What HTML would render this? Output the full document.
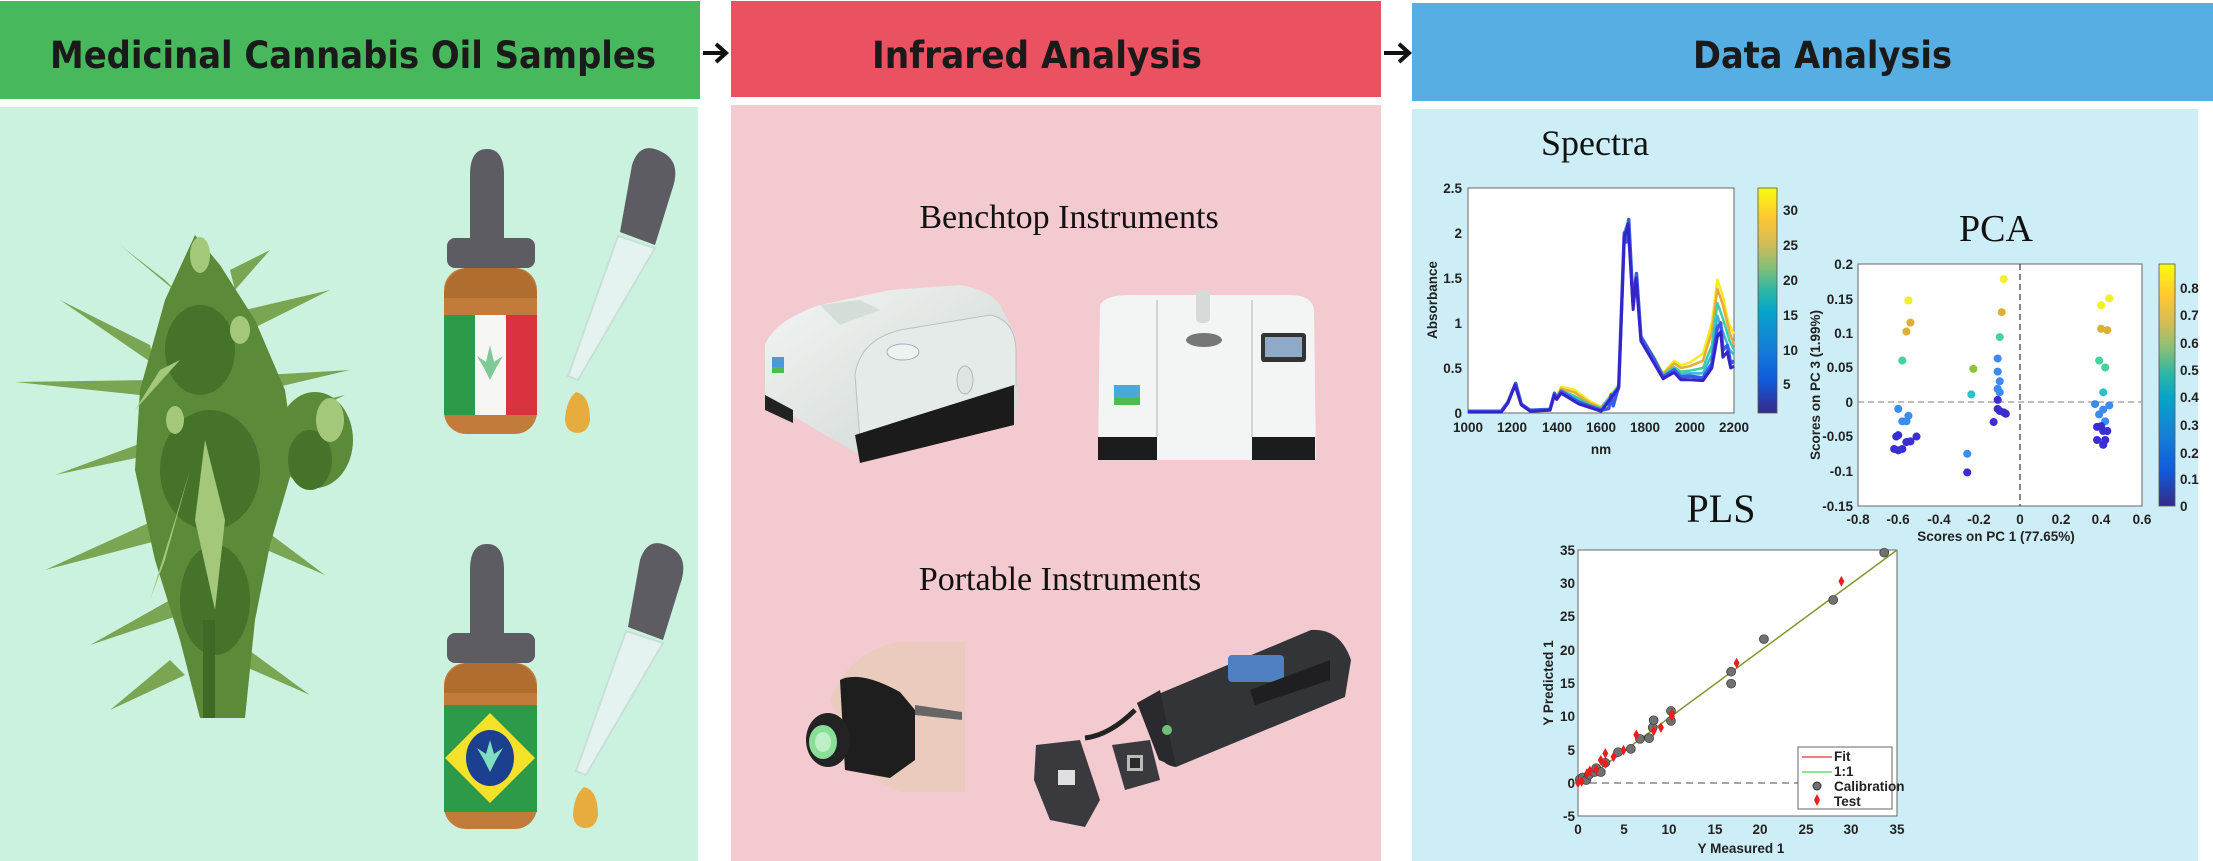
<!DOCTYPE html>
<html><head><meta charset="utf-8"><style>
html,body{margin:0;padding:0;background:#fff;}
svg{display:block;}
.tk{font-family:"Liberation Sans",sans-serif;font-weight:bold;font-size:13.5px;fill:#222;}
.ser{font-family:"Liberation Serif",serif;fill:#111;}
.hd{font-family:"DejaVu Sans","Liberation Sans",sans-serif;font-weight:bold;font-size:37px;fill:#1a1a1a;font-stretch:condensed;}
</style></head><body>
<svg width="2213" height="861" viewBox="0 0 2213 861" xmlns="http://www.w3.org/2000/svg">
<defs>
<linearGradient id="par" x1="0" y1="1" x2="0" y2="0">
<stop offset="0" stop-color="#352a87"/><stop offset="0.15" stop-color="#0f5cdd"/><stop offset="0.3" stop-color="#1481d6"/>
<stop offset="0.45" stop-color="#06a4ca"/><stop offset="0.55" stop-color="#2eb7a4"/><stop offset="0.65" stop-color="#87bf77"/>
<stop offset="0.75" stop-color="#d1bb59"/><stop offset="0.87" stop-color="#fec832"/><stop offset="1" stop-color="#f9fb0e"/>
</linearGradient>
<linearGradient id="gw" x1="0" y1="0" x2="1" y2="1"><stop offset="0" stop-color="#f2f5f3"/><stop offset="1" stop-color="#cdd5d2"/></linearGradient>
</defs>
<rect width="2213" height="861" fill="#fff"/>
<!-- headers -->
<rect x="0" y="1" width="700" height="98" fill="#47b95c"/>
<rect x="731" y="1" width="650" height="96" fill="#ea5262"/>
<rect x="1412" y="3" width="801" height="98" fill="#56aee2"/>
<text class="hd" x="50" y="68" textLength="606" lengthAdjust="spacingAndGlyphs">Medicinal Cannabis Oil Samples</text>
<text class="hd" x="872" y="68" textLength="330" lengthAdjust="spacingAndGlyphs">Infrared Analysis</text>
<text class="hd" x="1693" y="68" textLength="259" lengthAdjust="spacingAndGlyphs">Data Analysis</text>
<!-- arrows -->
<g stroke="#111" stroke-width="4" fill="none"><path d="M703 53 H725 M716 44 L726 53 L716 62"/><path d="M1384 53 H1408 M1399 44 L1409 53 L1399 62"/></g>
<!-- bodies -->
<rect x="0" y="107" width="698" height="754" fill="#cbf2df"/>
<rect x="731" y="105" width="650" height="756" fill="#f2cad0"/>
<rect x="1412" y="109" width="786" height="752" fill="#cdeef6"/>

<!-- plant -->
<g>
<g fill="#7aa653">
<path d="M150 380 L15 382 L140 395 Z"/><path d="M150 345 L60 300 L155 365 Z"/><path d="M150 440 L55 475 L150 455 Z"/>
<path d="M155 520 L45 570 L160 540 Z"/><path d="M170 600 L90 645 L180 615 Z"/><path d="M170 660 L110 710 L185 675 Z"/>
<path d="M245 310 L330 290 L250 330 Z"/><path d="M265 375 L350 370 L265 390 Z"/><path d="M280 410 L345 395 L285 425 Z"/>
<path d="M265 530 L325 575 L255 545 Z"/><path d="M235 640 L310 695 L230 660 Z"/><path d="M165 280 L120 245 L180 295 Z"/><path d="M230 270 L270 250 L235 290 Z"/>
</g>
<g fill="#5b8a39">
<path d="M195 235 L220 265 L255 320 L285 390 L295 460 L270 545 L255 620 L245 718 L200 718 L180 640 L155 560 L135 470 L140 390 L165 300 Z"/>
<ellipse cx="315" cy="440" rx="38" ry="48"/>
</g>
<g fill="#46732a">
<ellipse cx="200" cy="350" rx="35" ry="45"/><ellipse cx="210" cy="470" rx="50" ry="60"/><ellipse cx="215" cy="600" rx="35" ry="55"/><ellipse cx="310" cy="460" rx="22" ry="30"/>
<rect x="203" y="620" width="12" height="98" fill="#3f6a25"/>
</g>
<g fill="#a3c87a">
<path d="M205 440 L225 520 L215 610 L195 520 Z"/><path d="M190 470 L165 560 L150 600 L175 520 Z"/><path d="M180 360 L135 410 L160 370 Z"/>
<ellipse cx="200" cy="255" rx="10" ry="18"/><ellipse cx="330" cy="420" rx="14" ry="22"/><ellipse cx="240" cy="330" rx="10" ry="14"/><ellipse cx="175" cy="420" rx="9" ry="14"/>
</g>
</g>

<!-- bottles -->
<g id="b1">
<path d="M470 175 Q470 149 487 149 Q504 149 504 175 L504 241 L470 241 Z" fill="#5d5c62"/>
<rect x="447" y="238" width="88" height="30" rx="8" fill="#5d5c62"/>
<rect x="444" y="268" width="93" height="166" rx="22" fill="#c27b3a"/>
<path d="M465 268 Q444 274 444 298 L537 298 Q537 274 516 268 Z" fill="#b06d30"/>
</g>
<rect x="444" y="315" width="31" height="100" fill="#2c9a48"/>
<rect x="475" y="315" width="31" height="100" fill="#f6f6f4"/>
<rect x="506" y="315" width="31" height="100" fill="#d9333f"/>
<path d="M490 345 L494 362 L503 356 L496 368 L490 380 L484 368 L477 356 L486 362 Z" fill="#7fc996"/>
<g id="d1">
<path d="M632 165 Q640 140 662 152 Q682 162 672 190 L655 245 L620 232 Z" fill="#5d5c62"/>
<path d="M618 236 L655 248 L578 380 L568 376 Z" fill="#e4f3f0" stroke="#c8dfda" stroke-width="2"/>
<path d="M576 392 Q590 395 590 420 Q588 433 577 433 Q566 432 565 420 Q566 400 576 392 Z" fill="#e6ad3e"/>
</g>
<use href="#b1" y="395"/>
<rect x="444" y="705" width="93" height="107" fill="#2c9a48"/>
<path d="M490 713 L535 758 L490 803 L445 758 Z" fill="#f4e12a"/>
<ellipse cx="490" cy="758" rx="24" ry="28" fill="#1c3f8f"/>
<path d="M490 740 L494 754 L503 748 L496 760 L490 772 L484 760 L477 748 L486 754 Z" fill="#7fdfbf"/>
<use href="#d1" x="8" y="395"/>

<!-- middle -->
<text class="ser" x="1069" y="228" font-size="34" text-anchor="middle">Benchtop Instruments</text>
<text class="ser" x="1060" y="590" font-size="34" text-anchor="middle">Portable Instruments</text>
<!-- instrument 1 -->
<g>
<path d="M765 345 Q775 320 820 305 L890 290 L960 285 Q990 290 1000 305 L1015 335 L1018 400 L1014 420 L860 455 L765 400 Z" fill="url(#gw)"/>
<path d="M855 375 Q860 340 900 330 L990 315 Q1015 320 1016 350 L1016 385 L860 440 Z" fill="#e5ebe8" stroke="#b9c2be" stroke-width="1"/>
<path d="M765 395 L793 410 L793 423 L765 410 Z" fill="#222"/>
<path d="M855 435 L1014 385 L1014 425 L860 463 Z" fill="#1b1b1b"/>
<rect x="772" y="357" width="12" height="16" fill="#4a9ad8"/><rect x="772" y="367" width="12" height="6" fill="#4cbb50"/>
<ellipse cx="903" cy="352" rx="16" ry="8" fill="#eef2f0" stroke="#aab" />
<ellipse cx="965" cy="380" rx="8" ry="14" fill="#dfe5e2" stroke="#b0b8b4"/>
<path d="M820 305 L860 300 L880 310 L840 325 Z" fill="#d5ddd9"/>
</g>
<!-- instrument 2 -->
<g>
<path d="M1100 305 Q1105 295 1130 295 L1290 295 Q1312 295 1314 310 L1316 460 L1098 460 Z" fill="#f3f5f4"/>
<line x1="1157" y1="300" x2="1157" y2="437" stroke="#cfd6d3" stroke-width="2"/><line x1="1252" y1="300" x2="1252" y2="437" stroke="#cfd6d3" stroke-width="2"/>
<rect x="1196" y="290" width="14" height="33" rx="5" fill="#d6dbd9"/>
<ellipse cx="1204" cy="340" rx="18" ry="7" fill="#777"/>
<rect x="1261" y="333" width="45" height="29" rx="3" fill="#333"/><rect x="1265" y="337" width="37" height="20" fill="#8fa9c6"/>
<rect x="1098" y="437" width="59" height="23" fill="#1c1c1c"/><rect x="1252" y="437" width="63" height="23" fill="#1c1c1c"/>
<rect x="1114" y="385" width="26" height="20" fill="#4aa9d8"/><rect x="1114" y="398" width="26" height="7" fill="#4cbb50"/>
</g>
<!-- puck in hand -->
<g>
<path d="M830 700 Q850 650 900 642 L965 642 L965 792 L900 792 Q870 780 860 760 Z" fill="#ebcbbd"/>
<path d="M840 680 Q860 670 900 692 L915 710 L915 760 L890 778 L845 770 Z" fill="#1e1e1e"/>
<path d="M915 705 L962 712 L962 720 L915 715 Z" fill="#666"/>
<ellipse cx="828" cy="740" rx="22" ry="27" fill="#232323"/>
<ellipse cx="823" cy="742" rx="14" ry="17" fill="#8adf98"/><ellipse cx="823" cy="742" rx="8" ry="10" fill="#bff0c5"/>
</g>
<!-- handheld -->
<g>
<path d="M1137 703 L1311 630 Q1340 628 1351 660 L1345 697 L1176 767 Q1160 765 1159 750 Z" fill="#333438"/>
<path d="M1137 703 L1160 690 L1176 767 L1159 760 Z" fill="#2a2a2e"/>
<rect x="1228" y="655" width="56" height="27" rx="4" fill="#4f7fc0"/>
<path d="M1250 690 L1330 660 L1330 680 L1255 705 Z" fill="#1f1f22"/>
<circle cx="1167" cy="730" r="5" fill="#6fc07a"/>
<path d="M1085 738 Q1110 735 1135 710" stroke="#222" stroke-width="5" fill="none"/>
<path d="M1112 745 L1150 740 L1160 780 L1125 790 Z" fill="#3a3a3e"/><rect x="1127" y="755" width="16" height="16" fill="#bbb"/><rect x="1130" y="758" width="10" height="10" fill="#2a2a2a"/>
<path d="M1036 745 L1080 740 L1100 800 L1085 827 L1050 820 L1034 780 Z" fill="#3a3a3e"/><rect x="1058" y="770" width="17" height="15" fill="#e0e0e0"/>
</g>

<!-- SPECTRA -->
<text class="ser" x="1595" y="155" font-size="36" text-anchor="middle">Spectra</text>
<rect x="1468" y="188" width="266" height="225" fill="#fff" stroke="#666" stroke-width="1"/>
<g transform="translate(1468,413) scale(0.22167,-90) translate(-1000,0)" fill="none" stroke-width="2" stroke-linejoin="round">
<polyline vector-effect="non-scaling-stroke" stroke="#f2ec1e" stroke-width="2.5" points="1000,0.02 1150,0.02 1180,0.12 1215,0.33 1240,0.1 1280,0.03 1370,0.04 1390,0.22 1400,0.18 1420,0.29 1480,0.26 1550,0.13 1600,0.07 1635,0.08 1645,0.22 1655,0.1 1680,0.32 1705,2.0 1715,1.9 1725,2.15 1745,1.2 1760,1.55 1780,0.85 1840,0.62 1880,0.44 1900,0.5 1930,0.58 1960,0.53 2000,0.56 2060,0.66 2100,1.0 2125,1.48 2150,1.3 2175,1.0 2200,0.88"/>
<polyline vector-effect="non-scaling-stroke" stroke="#eaa93a" stroke-width="2.5" points="1000,0.02 1150,0.02 1180,0.12 1215,0.33 1240,0.1 1280,0.03 1370,0.04 1390,0.22 1400,0.17 1420,0.27 1480,0.23 1550,0.11 1600,0.06 1680,0.31 1705,2.0 1725,2.15 1745,1.2 1760,1.55 1780,0.85 1840,0.6 1880,0.43 1900,0.48 1930,0.55 1960,0.5 2000,0.52 2060,0.58 2100,0.9 2125,1.38 2150,1.2 2180,0.9 2200,0.76"/>
<polyline vector-effect="non-scaling-stroke" stroke="#3fcf9a" stroke-width="2.5" points="1000,0.02 1150,0.02 1180,0.12 1215,0.33 1240,0.1 1280,0.03 1370,0.04 1390,0.22 1400,0.16 1420,0.25 1480,0.19 1550,0.09 1600,0.05 1680,0.3 1705,2.0 1725,2.15 1745,1.2 1760,1.55 1780,0.85 1840,0.6 1880,0.42 1900,0.46 1930,0.51 1960,0.46 2000,0.47 2060,0.5 2100,0.75 2125,1.22 2150,1.05 2180,0.8 2200,0.7"/>
<polyline vector-effect="non-scaling-stroke" stroke="#33b6e0" stroke-width="2.5" points="1000,0.02 1150,0.02 1180,0.12 1215,0.33 1240,0.1 1280,0.03 1370,0.04 1390,0.22 1400,0.16 1420,0.24 1480,0.16 1550,0.07 1600,0.04 1680,0.3 1705,2.0 1725,2.15 1745,1.2 1760,1.55 1780,0.85 1840,0.6 1880,0.41 1900,0.44 1930,0.49 1960,0.43 2000,0.44 2060,0.44 2100,0.65 2125,1.08 2150,0.9 2180,0.7 2200,0.65"/>
<polyline vector-effect="non-scaling-stroke" stroke="#3a5ae8" stroke-width="3.5" points="1000,0.02 1150,0.02 1180,0.12 1215,0.33 1240,0.1 1280,0.03 1370,0.04 1390,0.22 1400,0.16 1420,0.24 1500,0.12 1600,0.03 1635,0.05 1645,0.2 1655,0.08 1680,0.3 1705,2.0 1715,1.9 1725,2.15 1745,1.2 1760,1.55 1780,0.85 1840,0.6 1880,0.4 1900,0.43 1930,0.48 1960,0.4 2000,0.41 2060,0.39 2100,0.55 2125,0.95 2140,1.0 2150,0.7 2170,0.75 2185,0.55 2200,0.58"/>
<polyline vector-effect="non-scaling-stroke" stroke="#3524c8" stroke-width="3" points="1000,0.01 1150,0.01 1180,0.11 1212,0.31 1240,0.09 1280,0.02 1370,0.03 1390,0.2 1400,0.15 1420,0.22 1500,0.1 1600,0.02 1680,0.28 1705,1.95 1722,2.1 1745,1.15 1758,1.5 1780,0.8 1840,0.55 1880,0.38 1900,0.41 1930,0.45 1960,0.37 2000,0.37 2060,0.36 2100,0.5 2125,0.85 2140,0.9 2150,0.62 2170,0.68 2185,0.5 2200,0.52"/>
</g>
<g class="tk" text-anchor="end">
<text x="1462" y="418">0</text><text x="1462" y="373">0.5</text><text x="1462" y="328">1</text><text x="1462" y="283">1.5</text><text x="1462" y="238">2</text><text x="1462" y="193">2.5</text>
</g>
<g class="tk" text-anchor="middle">
<text x="1468" y="432">1000</text><text x="1512" y="432">1200</text><text x="1557" y="432">1400</text><text x="1601" y="432">1600</text><text x="1645" y="432">1800</text><text x="1690" y="432">2000</text><text x="1734" y="432">2200</text>
<text x="1601" y="454">nm</text>
<text transform="translate(1437,300) rotate(-90)">Absorbance</text>
</g>
<rect x="1758" y="188" width="19" height="225" fill="url(#par)" stroke="#555" stroke-width="0.8"/>
<g class="tk"><text x="1783" y="215">30</text><text x="1783" y="250">25</text><text x="1783" y="285">20</text><text x="1783" y="320">15</text><text x="1783" y="355">10</text><text x="1783" y="389">5</text></g>

<!-- PCA -->
<text class="ser" x="1996" y="241" font-size="38" text-anchor="middle">PCA</text>
<rect x="1858" y="264" width="284" height="242" fill="#fff" stroke="#666" stroke-width="1"/>
<line x1="2020" y1="264" x2="2020" y2="506" stroke="#444" stroke-width="1.3" stroke-dasharray="6,4"/>
<line x1="1858" y1="402" x2="2142" y2="402" stroke="#999" stroke-width="1.3" stroke-dasharray="6,4"/>
<g transform="translate(2020,402) scale(202.9,-690.6)">
<g fill="#f2ee2a"><ellipse cx="-0.55" cy="0.147" rx="0.02" ry="0.0058"/><ellipse cx="-0.08" cy="0.178" rx="0.02" ry="0.0058"/><ellipse cx="0.44" cy="0.15" rx="0.02" ry="0.0058"/><ellipse cx="0.4" cy="0.14" rx="0.02" ry="0.0058"/></g>
<g fill="#dfae38"><ellipse cx="-0.54" cy="0.115" rx="0.02" ry="0.0058"/><ellipse cx="-0.56" cy="0.102" rx="0.02" ry="0.0058"/><ellipse cx="-0.09" cy="0.13" rx="0.02" ry="0.0058"/><ellipse cx="0.4" cy="0.106" rx="0.02" ry="0.0058"/><ellipse cx="0.43" cy="0.104" rx="0.02" ry="0.0058"/></g>
<g fill="#44d39a"><ellipse cx="-0.58" cy="0.06" rx="0.02" ry="0.0058"/><ellipse cx="-0.1" cy="0.094" rx="0.02" ry="0.0058"/><ellipse cx="0.39" cy="0.06" rx="0.02" ry="0.0058"/><ellipse cx="0.42" cy="0.05" rx="0.02" ry="0.0058"/></g>
<ellipse cx="-0.23" cy="0.048" rx="0.02" ry="0.0058" fill="#8cc43c"/>
<g fill="#2cc0c8"><ellipse cx="-0.24" cy="0.011" rx="0.02" ry="0.0058"/><ellipse cx="0.41" cy="0.014" rx="0.02" ry="0.0058"/></g>
<g fill="#3b8cf0"><ellipse cx="-0.6" cy="-0.01" rx="0.02" ry="0.0058"/><ellipse cx="-0.58" cy="-0.028" rx="0.02" ry="0.0058"/><ellipse cx="-0.56" cy="-0.028" rx="0.02" ry="0.0058"/><ellipse cx="-0.55" cy="-0.02" rx="0.02" ry="0.0058"/>
<ellipse cx="-0.11" cy="0.063" rx="0.02" ry="0.0058"/><ellipse cx="-0.11" cy="0.044" rx="0.02" ry="0.0058"/><ellipse cx="-0.1" cy="0.03" rx="0.02" ry="0.0058"/><ellipse cx="-0.11" cy="0.019" rx="0.02" ry="0.0058"/><ellipse cx="-0.1" cy="0.014" rx="0.02" ry="0.0058"/><ellipse cx="-0.26" cy="-0.075" rx="0.02" ry="0.0058"/>
<ellipse cx="0.37" cy="-0.003" rx="0.02" ry="0.0058"/><ellipse cx="0.44" cy="-0.005" rx="0.02" ry="0.0058"/><ellipse cx="0.41" cy="-0.011" rx="0.02" ry="0.0058"/><ellipse cx="0.39" cy="-0.018" rx="0.02" ry="0.0058"/><ellipse cx="0.42" cy="-0.028" rx="0.02" ry="0.0058"/></g>
<g fill="#3a2ed0"><ellipse cx="-0.61" cy="-0.05" rx="0.02" ry="0.0058"/><ellipse cx="-0.6" cy="-0.048" rx="0.02" ry="0.0058"/><ellipse cx="-0.62" cy="-0.068" rx="0.02" ry="0.0058"/><ellipse cx="-0.6" cy="-0.07" rx="0.02" ry="0.0058"/><ellipse cx="-0.58" cy="-0.068" rx="0.02" ry="0.0058"/><ellipse cx="-0.56" cy="-0.058" rx="0.02" ry="0.0058"/><ellipse cx="-0.54" cy="-0.057" rx="0.02" ry="0.0058"/><ellipse cx="-0.51" cy="-0.05" rx="0.02" ry="0.0058"/>
<ellipse cx="-0.11" cy="0.003" rx="0.02" ry="0.0058"/><ellipse cx="-0.11" cy="-0.01" rx="0.02" ry="0.0058"/><ellipse cx="-0.1" cy="-0.013" rx="0.02" ry="0.0058"/><ellipse cx="-0.08" cy="-0.015" rx="0.02" ry="0.0058"/><ellipse cx="-0.07" cy="-0.017" rx="0.02" ry="0.0058"/><ellipse cx="-0.13" cy="-0.029" rx="0.02" ry="0.0058"/><ellipse cx="-0.26" cy="-0.102" rx="0.02" ry="0.0058"/>
<ellipse cx="0.4" cy="-0.035" rx="0.02" ry="0.0058"/><ellipse cx="0.38" cy="-0.036" rx="0.02" ry="0.0058"/><ellipse cx="0.41" cy="-0.042" rx="0.02" ry="0.0058"/><ellipse cx="0.43" cy="-0.042" rx="0.02" ry="0.0058"/><ellipse cx="0.38" cy="-0.055" rx="0.02" ry="0.0058"/><ellipse cx="0.42" cy="-0.055" rx="0.02" ry="0.0058"/><ellipse cx="0.41" cy="-0.062" rx="0.02" ry="0.0058"/></g>
</g>
<g class="tk" text-anchor="end">
<text x="1853" y="269">0.2</text><text x="1853" y="304">0.15</text><text x="1853" y="338">0.1</text><text x="1853" y="372">0.05</text><text x="1853" y="407">0</text><text x="1853" y="441">-0.05</text><text x="1853" y="476">-0.1</text><text x="1853" y="511">-0.15</text>
</g>
<g class="tk" text-anchor="middle">
<text x="1858" y="524">-0.8</text><text x="1898" y="524">-0.6</text><text x="1939" y="524">-0.4</text><text x="1979" y="524">-0.2</text><text x="2020" y="524">0</text><text x="2061" y="524">0.2</text><text x="2101" y="524">0.4</text><text x="2142" y="524">0.6</text>
<text x="1996" y="541">Scores on PC 1 (77.65%)</text>
<text transform="translate(1820,385) rotate(-90)">Scores on PC 3 (1.99%)</text>
</g>
<rect x="2159" y="264" width="16" height="242" fill="url(#par)" stroke="#555" stroke-width="0.8"/>
<g class="tk" font-size="12"><text x="2180" y="293">0.8</text><text x="2180" y="320">0.7</text><text x="2180" y="348">0.6</text><text x="2180" y="375">0.5</text><text x="2180" y="402">0.4</text><text x="2180" y="430">0.3</text><text x="2180" y="458">0.2</text><text x="2180" y="484">0.1</text><text x="2180" y="511">0</text></g>

<!-- PLS -->
<text class="ser" x="1721" y="522" font-size="40" text-anchor="middle">PLS</text>
<rect x="1578" y="550" width="319" height="266" fill="#fff" stroke="#666" stroke-width="1"/>
<line x1="1578" y1="783" x2="1800" y2="783" stroke="#888" stroke-width="1.5" stroke-dasharray="7,5"/>
<line x1="1578" y1="785" x2="1897" y2="550" stroke="#7a9a30" stroke-width="1.5"/>
<g transform="translate(1578,782.75) scale(9.114,-6.65)">
<g fill="#707070" stroke="#333" stroke-width="0.08">
<ellipse cx="0.2" cy="0.5" rx="0.49" ry="0.68"/><ellipse cx="0.5" cy="0.8" rx="0.49" ry="0.68"/><ellipse cx="0.9" cy="0.4" rx="0.49" ry="0.68"/><ellipse cx="1.2" cy="1.2" rx="0.49" ry="0.68"/><ellipse cx="1.8" cy="1.6" rx="0.49" ry="0.68"/><ellipse cx="2" cy="2.2" rx="0.49" ry="0.68"/><ellipse cx="2.5" cy="1.6" rx="0.49" ry="0.68"/><ellipse cx="3" cy="3" rx="0.49" ry="0.68"/><ellipse cx="4.4" cy="4.6" rx="0.49" ry="0.68"/><ellipse cx="5.8" cy="5.1" rx="0.49" ry="0.68"/><ellipse cx="6.8" cy="6.6" rx="0.49" ry="0.68"/><ellipse cx="7.8" cy="6.7" rx="0.49" ry="0.68"/><ellipse cx="8.2" cy="8.3" rx="0.49" ry="0.68"/><ellipse cx="8.3" cy="9.4" rx="0.49" ry="0.68"/><ellipse cx="10.2" cy="9.3" rx="0.49" ry="0.68"/><ellipse cx="10.2" cy="10.8" rx="0.49" ry="0.68"/><ellipse cx="16.8" cy="16.7" rx="0.49" ry="0.68"/><ellipse cx="16.8" cy="14.9" rx="0.49" ry="0.68"/><ellipse cx="20.4" cy="21.6" rx="0.49" ry="0.68"/><ellipse cx="28" cy="27.5" rx="0.49" ry="0.68"/><ellipse cx="33.6" cy="34.6" rx="0.49" ry="0.68"/>
</g>
<g fill="#ee1c1c">
<path d="M0 0.8 l0.33 -0.8 l-0.33 -0.8 l-0.33 0.8z"/><path d="M0.4 1 l0.33 -0.8 l-0.33 -0.8 l-0.33 0.8z"/><path d="M1 2.2 l0.33 -0.8 l-0.33 -0.8 l-0.33 0.8z"/><path d="M1.3 2.6 l0.33 -0.8 l-0.33 -0.8 l-0.33 0.8z"/><path d="M2 2.8 l0.33 -0.8 l-0.33 -0.8 l-0.33 0.8z"/><path d="M2.5 4.2 l0.33 -0.8 l-0.33 -0.8 l-0.33 0.8z"/><path d="M3 5.2 l0.33 -0.8 l-0.33 -0.8 l-0.33 0.8z"/><path d="M3 3.7 l0.33 -0.8 l-0.33 -0.8 l-0.33 0.8z"/><path d="M3.9 4.7 l0.33 -0.8 l-0.33 -0.8 l-0.33 0.8z"/><path d="M5 5.7 l0.33 -0.8 l-0.33 -0.8 l-0.33 0.8z"/><path d="M6.4 8 l0.33 -0.8 l-0.33 -0.8 l-0.33 0.8z"/><path d="M8.3 8.6 l0.33 -0.8 l-0.33 -0.8 l-0.33 0.8z"/><path d="M9.1 9.1 l0.33 -0.8 l-0.33 -0.8 l-0.33 0.8z"/><path d="M10.3 10.8 l0.33 -0.8 l-0.33 -0.8 l-0.33 0.8z"/><path d="M10.3 11.2 l0.33 -0.8 l-0.33 -0.8 l-0.33 0.8z"/><path d="M17.4 18.8 l0.33 -0.8 l-0.33 -0.8 l-0.33 0.8z"/><path d="M28.9 31.1 l0.33 -0.8 l-0.33 -0.8 l-0.33 0.8z"/>
</g>
</g>
<rect x="1798" y="747" width="94" height="62" fill="#fff" stroke="#666" stroke-width="1"/>
<line x1="1802" y1="757" x2="1832" y2="757" stroke="#e33" stroke-width="1.2"/>
<line x1="1802" y1="772" x2="1832" y2="772" stroke="#6d6" stroke-width="1.5"/>
<circle cx="1817" cy="786" r="4" fill="#707070" stroke="#333"/>
<path d="M1817 794 l3 6 l-3 6 l-3 -6z" fill="#ee1c1c"/>
<g class="tk" font-size="12"><text x="1834" y="761">Fit</text><text x="1834" y="776">1:1</text><text x="1834" y="791">Calibration</text><text x="1834" y="806">Test</text></g>
<g class="tk" text-anchor="end">
<text x="1575" y="555">35</text><text x="1575" y="588">30</text><text x="1575" y="621">25</text><text x="1575" y="655">20</text><text x="1575" y="688">15</text><text x="1575" y="721">10</text><text x="1575" y="755">5</text><text x="1575" y="788">0</text><text x="1575" y="821">-5</text>
</g>
<g class="tk" text-anchor="middle">
<text x="1578" y="834">0</text><text x="1624" y="834">5</text><text x="1669" y="834">10</text><text x="1715" y="834">15</text><text x="1760" y="834">20</text><text x="1806" y="834">25</text><text x="1851" y="834">30</text><text x="1897" y="834">35</text>
<text x="1741" y="853">Y Measured 1</text>
<text transform="translate(1553,683) rotate(-90)">Y Predicted 1</text>
</g>
</svg>
</body></html>
